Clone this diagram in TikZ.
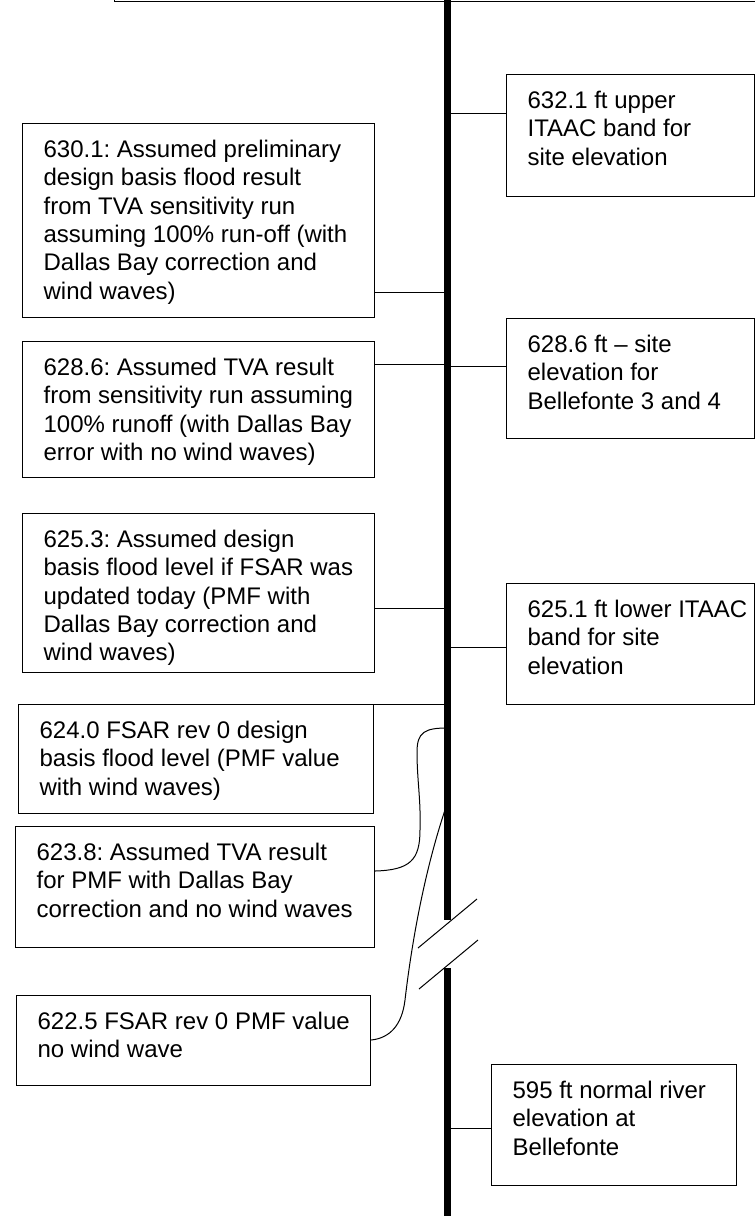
\documentclass[tikz,border=0pt]{standalone}
\usepackage{fontspec}
\setmainfont{Liberation Sans}
\frenchspacing
\newcommand{\levtext}[3]{\parbox[t][#2][t]{#1}{\raggedright\leftskip=10.5pt\rule{0pt}{17pt}#3}}

\begin{document}
\begin{tikzpicture}[x=0.5pt, y=-0.5pt,
        level/.style={draw, line width=0.6pt, inner sep=0pt, anchor=north west,
            font=\fontsize{12}{14.15}\selectfont},
        bar/.style={line width=3.5pt},
        link/.style={line width=0.5pt}]
    \useasboundingbox (0,0) rectangle (755,1216);
    \clip (0,0) rectangle (755,1216);

    % box cut off at the top
    \node[level, minimum width=400pt, minimum height=60pt, anchor=south west] (head) at (114,2) {};

    % left column
    \node[level] (run630) at (22,123) {\levtext{176pt}{97pt}{630.1: Assumed preliminary\\
        design basis flood result\\ from TVA sensitivity run\\ assuming 100\% run-off (with\\
        Dallas Bay correction and\\ wind waves)}};
    \node[level] (run628) at (22,341) {\levtext{176pt}{68pt}{628.6: Assumed TVA result\\
        from sensitivity run assuming\\ 100\% runoff (with Dallas Bay\\ error with no wind waves)}};
    \node[level] (pmf625) at (22,513) {\levtext{176pt}{79.5pt}{625.3: Assumed design\\
        basis flood level if FSAR was\\ updated today (PMF with\\ Dallas Bay correction and\\
        wind waves)}};
    \node[level] (fsar624) at (18,704) {\levtext{177.5pt}{54.5pt}{624.0 FSAR rev 0 design\\
        basis flood level (PMF value\\ with wind waves)}};
    \node[level] (tva623) at (15,826) {\levtext{179.5pt}{60.5pt}{623.8: Assumed TVA result\\
        for PMF with Dallas Bay\\ correction and no wind waves}};
    \node[level] (fsar622) at (16,995) {\levtext{177pt}{45pt}{622.5 FSAR rev 0 PMF value\\
        no wind wave}};

    % right column
    \node[level] (itaacup) at (506,74) {\levtext{124pt}{61pt}{632.1 ft upper\\
        ITAAC band for\\ site elevation}};
    \node[level] (site) at (506,318) {\levtext{124pt}{60pt}{628.6 ft – site\\
        elevation for\\ Bellefonte 3 and 4}};
    \node[level] (itaaclow) at (506,583) {\levtext{124pt}{60.5pt}{625.1 ft lower ITAAC\\
        band for site\\ elevation}};
    \node[level] (river) at (491,1064) {\levtext{122.5pt}{60.5pt}{595 ft normal river\\
        elevation at\\ Bellefonte}};

    % elevation axis with break
    \coordinate (axtop) at (447.5,0);
    \coordinate (brkup) at (447.5,920);
    \coordinate (brklo) at (447.5,968);
    \coordinate (axbot) at (447.5,1216);
    \draw[bar] (axtop) -- (brkup);
    \draw[bar] (brklo) -- (axbot);
    \draw[link] (418,948) -- (477,899);
    \draw[link] (419,989) -- (478,940);

    % points on the axis
    \coordinate (ax-632) at (447.5,113);
    \coordinate (ax-630) at (447.5,292);
    \coordinate (ax-628l) at (447.5,364);
    \coordinate (ax-628r) at (447.5,366);
    \coordinate (ax-625l) at (447.5,608);
    \coordinate (ax-625r) at (447.5,647);
    \coordinate (ax-624) at (447.5,704);
    \coordinate (ax-623) at (447.5,728);
    \coordinate (ax-622) at (445,810);
    \coordinate (ax-595) at (447.5,1128);

    % connectors
    \draw[link] (ax-632) -- (ax-632 -| itaacup.west);
    \draw[link] (run630.east |- ax-630) -- (ax-630);
    \draw[link] (run628.east |- ax-628l) -- (ax-628l);
    \draw[link] (ax-628r) -- (ax-628r -| site.west);
    \draw[link] (pmf625.east |- ax-625l) -- (ax-625l);
    \draw[link] (ax-625r) -- (ax-625r -| itaaclow.west);
    \draw[link] (fsar624.north east) -- (ax-624);
    \draw[link] (tva623.east |- 0,871) .. controls (410,870) and (420,860) .. (420,830)
        .. controls (421,800) and (417,780) .. (417,752)
        .. controls (417,732) and (425,728) .. (ax-623);
    \draw[link] (fsar622.east |- 0,1040) .. controls (390,1038) and (402,1025) .. (405,1000)
        .. controls (412,940) and (425,870) .. (ax-622);
    \draw[link] (ax-595) -- (ax-595 -| river.west);
\end{tikzpicture}
\end{document}
